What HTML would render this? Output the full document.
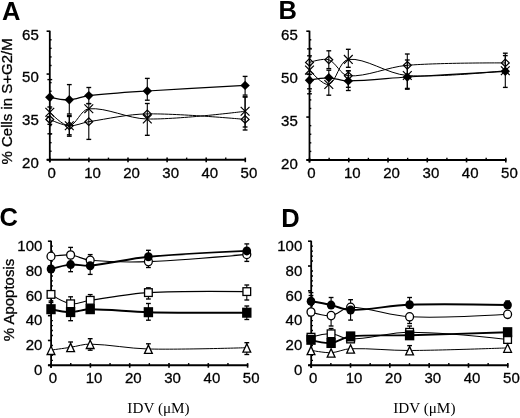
<!DOCTYPE html><html><head><meta charset="utf-8"><style>
html,body{margin:0;padding:0;background:#fff;width:520px;height:418px;overflow:hidden}
svg{display:block;filter:grayscale(1)}
.t{font-family:"Liberation Sans",sans-serif;font-size:15px;fill:#000;stroke:#000;stroke-width:0.3px}
.p{font-family:"Liberation Sans",sans-serif;font-size:25.5px;font-weight:bold;fill:#000}
.s{font-family:"Liberation Serif",serif;font-size:15.2px;fill:#000}
</style></head><body>
<svg width="520" height="418" viewBox="0 0 520 418">
<text x="2" y="19.7" class="p">A</text>
<text x="278.5" y="19.1" class="p">B</text>
<text x="-0.5" y="225.9" class="p">C</text>
<text x="281.3" y="226.9" class="p">D</text>
<text transform="translate(12,101.4) rotate(-90)" text-anchor="middle" class="t">% Cells in S+G2/M</text>
<text transform="translate(14.2,300) rotate(-90)" text-anchor="middle" class="t">% Apoptosis</text>
<text x="158.5" y="413" text-anchor="middle" class="s">IDV (&#956;M)</text>
<text x="424.3" y="413" text-anchor="middle" class="s">IDV (&#956;M)</text>
<line x1="49.8" y1="30.7" x2="49.8" y2="162.3" stroke="#000" stroke-width="1.8"/><line x1="46.8" y1="159.8" x2="245.9" y2="159.8" stroke="#000" stroke-width="1.9"/><line x1="46.6" y1="31.2" x2="49.8" y2="31.2" stroke="#000" stroke-width="1.6"/><line x1="46.6" y1="74.07" x2="49.8" y2="74.07" stroke="#000" stroke-width="1.6"/><line x1="46.6" y1="116.93" x2="49.8" y2="116.93" stroke="#000" stroke-width="1.6"/><line x1="46.6" y1="159.8" x2="49.8" y2="159.8" stroke="#000" stroke-width="1.6"/><line x1="49.8" y1="39.77" x2="51.6" y2="39.77" stroke="#000" stroke-width="1.4"/><line x1="49.8" y1="48.35" x2="51.6" y2="48.35" stroke="#000" stroke-width="1.4"/><line x1="49.8" y1="56.92" x2="51.6" y2="56.92" stroke="#000" stroke-width="1.4"/><line x1="49.8" y1="65.49" x2="51.6" y2="65.49" stroke="#000" stroke-width="1.4"/><line x1="49.8" y1="82.64" x2="51.6" y2="82.64" stroke="#000" stroke-width="1.4"/><line x1="49.8" y1="91.21" x2="51.6" y2="91.21" stroke="#000" stroke-width="1.4"/><line x1="49.8" y1="99.79" x2="51.6" y2="99.79" stroke="#000" stroke-width="1.4"/><line x1="49.8" y1="108.36" x2="51.6" y2="108.36" stroke="#000" stroke-width="1.4"/><line x1="49.8" y1="125.51" x2="51.6" y2="125.51" stroke="#000" stroke-width="1.4"/><line x1="49.8" y1="134.08" x2="51.6" y2="134.08" stroke="#000" stroke-width="1.4"/><line x1="49.8" y1="142.65" x2="51.6" y2="142.65" stroke="#000" stroke-width="1.4"/><line x1="49.8" y1="151.23" x2="51.6" y2="151.23" stroke="#000" stroke-width="1.4"/><line x1="49.8" y1="157.6" x2="49.8" y2="162.2" stroke="#000" stroke-width="1.6"/><line x1="69.35" y1="157.6" x2="69.35" y2="159.8" stroke="#000" stroke-width="1.4"/><line x1="88.9" y1="157.6" x2="88.9" y2="162.2" stroke="#000" stroke-width="1.6"/><line x1="108.45" y1="157.6" x2="108.45" y2="159.8" stroke="#000" stroke-width="1.4"/><line x1="128" y1="157.6" x2="128" y2="162.2" stroke="#000" stroke-width="1.6"/><line x1="147.55" y1="157.6" x2="147.55" y2="159.8" stroke="#000" stroke-width="1.4"/><line x1="167.1" y1="157.6" x2="167.1" y2="162.2" stroke="#000" stroke-width="1.6"/><line x1="186.65" y1="157.6" x2="186.65" y2="159.8" stroke="#000" stroke-width="1.4"/><line x1="206.2" y1="157.6" x2="206.2" y2="162.2" stroke="#000" stroke-width="1.6"/><line x1="225.75" y1="157.6" x2="225.75" y2="159.8" stroke="#000" stroke-width="1.4"/><line x1="245.3" y1="157.6" x2="245.3" y2="162.2" stroke="#000" stroke-width="1.6"/><text transform="translate(51.7,177.6)" text-anchor="middle" class="t">0</text><text transform="translate(92.5,177.6)" text-anchor="middle" class="t">10</text><text transform="translate(131.6,177.6)" text-anchor="middle" class="t">20</text><text transform="translate(170.7,177.6)" text-anchor="middle" class="t">30</text><text transform="translate(209.8,177.6)" text-anchor="middle" class="t">40</text><text transform="translate(248.9,177.6)" text-anchor="middle" class="t">50</text><text transform="translate(38.8,39.6)" text-anchor="end" class="t">65</text><text transform="translate(38.8,82.47)" text-anchor="end" class="t">50</text><text transform="translate(38.8,125.33)" text-anchor="end" class="t">35</text><text transform="translate(38.8,168.2)" text-anchor="end" class="t">20</text>
<line x1="309.5" y1="30.7" x2="309.5" y2="162.5" stroke="#000" stroke-width="1.8"/><line x1="306.5" y1="160" x2="506.4" y2="160" stroke="#000" stroke-width="1.9"/><line x1="306.3" y1="31.2" x2="309.5" y2="31.2" stroke="#000" stroke-width="1.6"/><line x1="306.3" y1="74.13" x2="309.5" y2="74.13" stroke="#000" stroke-width="1.6"/><line x1="306.3" y1="117.07" x2="309.5" y2="117.07" stroke="#000" stroke-width="1.6"/><line x1="306.3" y1="160" x2="309.5" y2="160" stroke="#000" stroke-width="1.6"/><line x1="309.5" y1="39.79" x2="311.3" y2="39.79" stroke="#000" stroke-width="1.4"/><line x1="309.5" y1="48.37" x2="311.3" y2="48.37" stroke="#000" stroke-width="1.4"/><line x1="309.5" y1="56.96" x2="311.3" y2="56.96" stroke="#000" stroke-width="1.4"/><line x1="309.5" y1="65.55" x2="311.3" y2="65.55" stroke="#000" stroke-width="1.4"/><line x1="309.5" y1="82.72" x2="311.3" y2="82.72" stroke="#000" stroke-width="1.4"/><line x1="309.5" y1="91.31" x2="311.3" y2="91.31" stroke="#000" stroke-width="1.4"/><line x1="309.5" y1="99.89" x2="311.3" y2="99.89" stroke="#000" stroke-width="1.4"/><line x1="309.5" y1="108.48" x2="311.3" y2="108.48" stroke="#000" stroke-width="1.4"/><line x1="309.5" y1="125.65" x2="311.3" y2="125.65" stroke="#000" stroke-width="1.4"/><line x1="309.5" y1="134.24" x2="311.3" y2="134.24" stroke="#000" stroke-width="1.4"/><line x1="309.5" y1="142.83" x2="311.3" y2="142.83" stroke="#000" stroke-width="1.4"/><line x1="309.5" y1="151.41" x2="311.3" y2="151.41" stroke="#000" stroke-width="1.4"/><line x1="309.5" y1="157.8" x2="309.5" y2="162.4" stroke="#000" stroke-width="1.6"/><line x1="329.13" y1="157.8" x2="329.13" y2="160" stroke="#000" stroke-width="1.4"/><line x1="348.76" y1="157.8" x2="348.76" y2="162.4" stroke="#000" stroke-width="1.6"/><line x1="368.39" y1="157.8" x2="368.39" y2="160" stroke="#000" stroke-width="1.4"/><line x1="388.02" y1="157.8" x2="388.02" y2="162.4" stroke="#000" stroke-width="1.6"/><line x1="407.65" y1="157.8" x2="407.65" y2="160" stroke="#000" stroke-width="1.4"/><line x1="427.28" y1="157.8" x2="427.28" y2="162.4" stroke="#000" stroke-width="1.6"/><line x1="446.91" y1="157.8" x2="446.91" y2="160" stroke="#000" stroke-width="1.4"/><line x1="466.54" y1="157.8" x2="466.54" y2="162.4" stroke="#000" stroke-width="1.6"/><line x1="486.17" y1="157.8" x2="486.17" y2="160" stroke="#000" stroke-width="1.4"/><line x1="505.8" y1="157.8" x2="505.8" y2="162.4" stroke="#000" stroke-width="1.6"/><text transform="translate(311.4,178.2)" text-anchor="middle" class="t">0</text><text transform="translate(352.36,178.2)" text-anchor="middle" class="t">10</text><text transform="translate(391.62,178.2)" text-anchor="middle" class="t">20</text><text transform="translate(430.88,178.2)" text-anchor="middle" class="t">30</text><text transform="translate(470.14,178.2)" text-anchor="middle" class="t">40</text><text transform="translate(509.4,178.2)" text-anchor="middle" class="t">50</text><text transform="translate(297.8,39.8)" text-anchor="end" class="t">65</text><text transform="translate(297.8,82.73)" text-anchor="end" class="t">50</text><text transform="translate(297.8,125.67)" text-anchor="end" class="t">35</text><text transform="translate(297.8,168.6)" text-anchor="end" class="t">20</text>
<line x1="51.1" y1="240.7" x2="51.1" y2="367.8" stroke="#000" stroke-width="1.8"/><line x1="48.1" y1="365.3" x2="248.2" y2="365.3" stroke="#000" stroke-width="1.9"/><line x1="47.9" y1="241.2" x2="51.1" y2="241.2" stroke="#000" stroke-width="1.6"/><line x1="47.9" y1="266.02" x2="51.1" y2="266.02" stroke="#000" stroke-width="1.6"/><line x1="47.9" y1="290.84" x2="51.1" y2="290.84" stroke="#000" stroke-width="1.6"/><line x1="47.9" y1="315.66" x2="51.1" y2="315.66" stroke="#000" stroke-width="1.6"/><line x1="47.9" y1="340.48" x2="51.1" y2="340.48" stroke="#000" stroke-width="1.6"/><line x1="47.9" y1="365.3" x2="51.1" y2="365.3" stroke="#000" stroke-width="1.6"/><line x1="51.1" y1="246.16" x2="52.9" y2="246.16" stroke="#000" stroke-width="1.4"/><line x1="51.1" y1="251.13" x2="52.9" y2="251.13" stroke="#000" stroke-width="1.4"/><line x1="51.1" y1="256.09" x2="52.9" y2="256.09" stroke="#000" stroke-width="1.4"/><line x1="51.1" y1="261.06" x2="52.9" y2="261.06" stroke="#000" stroke-width="1.4"/><line x1="51.1" y1="270.98" x2="52.9" y2="270.98" stroke="#000" stroke-width="1.4"/><line x1="51.1" y1="275.95" x2="52.9" y2="275.95" stroke="#000" stroke-width="1.4"/><line x1="51.1" y1="280.91" x2="52.9" y2="280.91" stroke="#000" stroke-width="1.4"/><line x1="51.1" y1="285.88" x2="52.9" y2="285.88" stroke="#000" stroke-width="1.4"/><line x1="51.1" y1="295.8" x2="52.9" y2="295.8" stroke="#000" stroke-width="1.4"/><line x1="51.1" y1="300.77" x2="52.9" y2="300.77" stroke="#000" stroke-width="1.4"/><line x1="51.1" y1="305.73" x2="52.9" y2="305.73" stroke="#000" stroke-width="1.4"/><line x1="51.1" y1="310.7" x2="52.9" y2="310.7" stroke="#000" stroke-width="1.4"/><line x1="51.1" y1="320.62" x2="52.9" y2="320.62" stroke="#000" stroke-width="1.4"/><line x1="51.1" y1="325.59" x2="52.9" y2="325.59" stroke="#000" stroke-width="1.4"/><line x1="51.1" y1="330.55" x2="52.9" y2="330.55" stroke="#000" stroke-width="1.4"/><line x1="51.1" y1="335.52" x2="52.9" y2="335.52" stroke="#000" stroke-width="1.4"/><line x1="51.1" y1="345.44" x2="52.9" y2="345.44" stroke="#000" stroke-width="1.4"/><line x1="51.1" y1="350.41" x2="52.9" y2="350.41" stroke="#000" stroke-width="1.4"/><line x1="51.1" y1="355.37" x2="52.9" y2="355.37" stroke="#000" stroke-width="1.4"/><line x1="51.1" y1="360.34" x2="52.9" y2="360.34" stroke="#000" stroke-width="1.4"/><line x1="51.1" y1="363.1" x2="51.1" y2="367.7" stroke="#000" stroke-width="1.6"/><line x1="70.75" y1="363.1" x2="70.75" y2="365.3" stroke="#000" stroke-width="1.4"/><line x1="90.4" y1="363.1" x2="90.4" y2="367.7" stroke="#000" stroke-width="1.6"/><line x1="110.05" y1="363.1" x2="110.05" y2="365.3" stroke="#000" stroke-width="1.4"/><line x1="129.7" y1="363.1" x2="129.7" y2="367.7" stroke="#000" stroke-width="1.6"/><line x1="149.35" y1="363.1" x2="149.35" y2="365.3" stroke="#000" stroke-width="1.4"/><line x1="169" y1="363.1" x2="169" y2="367.7" stroke="#000" stroke-width="1.6"/><line x1="188.65" y1="363.1" x2="188.65" y2="365.3" stroke="#000" stroke-width="1.4"/><line x1="208.3" y1="363.1" x2="208.3" y2="367.7" stroke="#000" stroke-width="1.6"/><line x1="227.95" y1="363.1" x2="227.95" y2="365.3" stroke="#000" stroke-width="1.4"/><line x1="247.6" y1="363.1" x2="247.6" y2="367.7" stroke="#000" stroke-width="1.6"/><text transform="translate(53,383.1)" text-anchor="middle" class="t">0</text><text transform="translate(94,383.1)" text-anchor="middle" class="t">10</text><text transform="translate(133.3,383.1)" text-anchor="middle" class="t">20</text><text transform="translate(172.6,383.1)" text-anchor="middle" class="t">30</text><text transform="translate(211.9,383.1)" text-anchor="middle" class="t">40</text><text transform="translate(251.2,383.1)" text-anchor="middle" class="t">50</text><text transform="translate(42.4,250.9)" text-anchor="end" class="t">100</text><text transform="translate(42.4,275.72)" text-anchor="end" class="t">80</text><text transform="translate(42.4,300.54)" text-anchor="end" class="t">60</text><text transform="translate(42.4,325.36)" text-anchor="end" class="t">40</text><text transform="translate(42.4,350.18)" text-anchor="end" class="t">20</text><text transform="translate(42.4,375)" text-anchor="end" class="t">0</text>
<line x1="311.2" y1="240.7" x2="311.2" y2="367.8" stroke="#000" stroke-width="1.8"/><line x1="308.2" y1="365.3" x2="508.4" y2="365.3" stroke="#000" stroke-width="1.9"/><line x1="308" y1="241.2" x2="311.2" y2="241.2" stroke="#000" stroke-width="1.6"/><line x1="308" y1="266.02" x2="311.2" y2="266.02" stroke="#000" stroke-width="1.6"/><line x1="308" y1="290.84" x2="311.2" y2="290.84" stroke="#000" stroke-width="1.6"/><line x1="308" y1="315.66" x2="311.2" y2="315.66" stroke="#000" stroke-width="1.6"/><line x1="308" y1="340.48" x2="311.2" y2="340.48" stroke="#000" stroke-width="1.6"/><line x1="308" y1="365.3" x2="311.2" y2="365.3" stroke="#000" stroke-width="1.6"/><line x1="311.2" y1="246.16" x2="313" y2="246.16" stroke="#000" stroke-width="1.4"/><line x1="311.2" y1="251.13" x2="313" y2="251.13" stroke="#000" stroke-width="1.4"/><line x1="311.2" y1="256.09" x2="313" y2="256.09" stroke="#000" stroke-width="1.4"/><line x1="311.2" y1="261.06" x2="313" y2="261.06" stroke="#000" stroke-width="1.4"/><line x1="311.2" y1="270.98" x2="313" y2="270.98" stroke="#000" stroke-width="1.4"/><line x1="311.2" y1="275.95" x2="313" y2="275.95" stroke="#000" stroke-width="1.4"/><line x1="311.2" y1="280.91" x2="313" y2="280.91" stroke="#000" stroke-width="1.4"/><line x1="311.2" y1="285.88" x2="313" y2="285.88" stroke="#000" stroke-width="1.4"/><line x1="311.2" y1="295.8" x2="313" y2="295.8" stroke="#000" stroke-width="1.4"/><line x1="311.2" y1="300.77" x2="313" y2="300.77" stroke="#000" stroke-width="1.4"/><line x1="311.2" y1="305.73" x2="313" y2="305.73" stroke="#000" stroke-width="1.4"/><line x1="311.2" y1="310.7" x2="313" y2="310.7" stroke="#000" stroke-width="1.4"/><line x1="311.2" y1="320.62" x2="313" y2="320.62" stroke="#000" stroke-width="1.4"/><line x1="311.2" y1="325.59" x2="313" y2="325.59" stroke="#000" stroke-width="1.4"/><line x1="311.2" y1="330.55" x2="313" y2="330.55" stroke="#000" stroke-width="1.4"/><line x1="311.2" y1="335.52" x2="313" y2="335.52" stroke="#000" stroke-width="1.4"/><line x1="311.2" y1="345.44" x2="313" y2="345.44" stroke="#000" stroke-width="1.4"/><line x1="311.2" y1="350.41" x2="313" y2="350.41" stroke="#000" stroke-width="1.4"/><line x1="311.2" y1="355.37" x2="313" y2="355.37" stroke="#000" stroke-width="1.4"/><line x1="311.2" y1="360.34" x2="313" y2="360.34" stroke="#000" stroke-width="1.4"/><line x1="311.2" y1="363.1" x2="311.2" y2="367.7" stroke="#000" stroke-width="1.6"/><line x1="330.86" y1="363.1" x2="330.86" y2="365.3" stroke="#000" stroke-width="1.4"/><line x1="350.52" y1="363.1" x2="350.52" y2="367.7" stroke="#000" stroke-width="1.6"/><line x1="370.18" y1="363.1" x2="370.18" y2="365.3" stroke="#000" stroke-width="1.4"/><line x1="389.84" y1="363.1" x2="389.84" y2="367.7" stroke="#000" stroke-width="1.6"/><line x1="409.5" y1="363.1" x2="409.5" y2="365.3" stroke="#000" stroke-width="1.4"/><line x1="429.16" y1="363.1" x2="429.16" y2="367.7" stroke="#000" stroke-width="1.6"/><line x1="448.82" y1="363.1" x2="448.82" y2="365.3" stroke="#000" stroke-width="1.4"/><line x1="468.48" y1="363.1" x2="468.48" y2="367.7" stroke="#000" stroke-width="1.6"/><line x1="488.14" y1="363.1" x2="488.14" y2="365.3" stroke="#000" stroke-width="1.4"/><line x1="507.8" y1="363.1" x2="507.8" y2="367.7" stroke="#000" stroke-width="1.6"/><text transform="translate(313.1,383.1)" text-anchor="middle" class="t">0</text><text transform="translate(354.12,383.1)" text-anchor="middle" class="t">10</text><text transform="translate(393.44,383.1)" text-anchor="middle" class="t">20</text><text transform="translate(432.76,383.1)" text-anchor="middle" class="t">30</text><text transform="translate(472.08,383.1)" text-anchor="middle" class="t">40</text><text transform="translate(511.4,383.1)" text-anchor="middle" class="t">50</text><text transform="translate(302.3,250.9)" text-anchor="end" class="t">100</text><text transform="translate(302.3,275.72)" text-anchor="end" class="t">80</text><text transform="translate(302.3,300.54)" text-anchor="end" class="t">60</text><text transform="translate(302.3,325.36)" text-anchor="end" class="t">40</text><text transform="translate(302.3,350.18)" text-anchor="end" class="t">20</text><text transform="translate(302.3,375)" text-anchor="end" class="t">0</text>
<line x1="47.4" y1="79.6" x2="52.2" y2="79.6" stroke="#000" stroke-width="1.35"/><line x1="47.4" y1="107" x2="52.2" y2="107" stroke="#000" stroke-width="1.35"/><line x1="47.4" y1="124.3" x2="52.2" y2="124.3" stroke="#000" stroke-width="1.35"/><line x1="47.4" y1="133.8" x2="52.2" y2="133.8" stroke="#000" stroke-width="1.35"/><line x1="69.3" y1="84.6" x2="69.3" y2="114" stroke="#000" stroke-width="1.1"/><line x1="69.3" y1="115.6" x2="69.3" y2="134.8" stroke="#000" stroke-width="1.1"/><line x1="69.3" y1="116.5" x2="69.3" y2="136.2" stroke="#000" stroke-width="1.1"/><line x1="66.9" y1="84.6" x2="71.7" y2="84.6" stroke="#000" stroke-width="1.35"/><line x1="66.9" y1="114" x2="71.7" y2="114" stroke="#000" stroke-width="1.35"/><line x1="66.9" y1="115.6" x2="71.7" y2="115.6" stroke="#000" stroke-width="1.35"/><line x1="66.9" y1="134.8" x2="71.7" y2="134.8" stroke="#000" stroke-width="1.35"/><line x1="66.9" y1="116.5" x2="71.7" y2="116.5" stroke="#000" stroke-width="1.35"/><line x1="66.9" y1="136.2" x2="71.7" y2="136.2" stroke="#000" stroke-width="1.35"/><line x1="88.8" y1="87.5" x2="88.8" y2="103.6" stroke="#000" stroke-width="1.1"/><line x1="88.8" y1="103.6" x2="88.8" y2="139.4" stroke="#000" stroke-width="1.1"/><line x1="86.4" y1="87.5" x2="91.2" y2="87.5" stroke="#000" stroke-width="1.35"/><line x1="86.4" y1="103.6" x2="91.2" y2="103.6" stroke="#000" stroke-width="1.35"/><line x1="86.4" y1="103.6" x2="91.2" y2="103.6" stroke="#000" stroke-width="1.35"/><line x1="86.4" y1="139.4" x2="91.2" y2="139.4" stroke="#000" stroke-width="1.35"/><line x1="147.3" y1="78.4" x2="147.3" y2="100.2" stroke="#000" stroke-width="1.1"/><line x1="147.3" y1="103.5" x2="147.3" y2="135.3" stroke="#000" stroke-width="1.1"/><line x1="144.9" y1="78.4" x2="149.7" y2="78.4" stroke="#000" stroke-width="1.35"/><line x1="144.9" y1="100.2" x2="149.7" y2="100.2" stroke="#000" stroke-width="1.35"/><line x1="144.9" y1="103.5" x2="149.7" y2="103.5" stroke="#000" stroke-width="1.35"/><line x1="144.9" y1="135.3" x2="149.7" y2="135.3" stroke="#000" stroke-width="1.35"/><line x1="245.1" y1="76.4" x2="245.1" y2="95.1" stroke="#000" stroke-width="1.1"/><line x1="245.1" y1="96.9" x2="245.1" y2="127" stroke="#000" stroke-width="1.1"/><line x1="245.1" y1="96.9" x2="245.1" y2="130" stroke="#000" stroke-width="1.1"/><line x1="242.7" y1="76.4" x2="247.5" y2="76.4" stroke="#000" stroke-width="1.35"/><line x1="242.7" y1="95.1" x2="247.5" y2="95.1" stroke="#000" stroke-width="1.35"/><line x1="242.7" y1="96.9" x2="247.5" y2="96.9" stroke="#000" stroke-width="1.35"/><line x1="242.7" y1="127" x2="247.5" y2="127" stroke="#000" stroke-width="1.35"/><line x1="242.7" y1="96.9" x2="247.5" y2="96.9" stroke="#000" stroke-width="1.35"/><line x1="242.7" y1="130" x2="247.5" y2="130" stroke="#000" stroke-width="1.35"/><path d="M49.8,97.3 C49.8,97.3 62.85,100.08 69.3,99.8 C75.85,99.51 82.2,96.34 88.8,95.6 C108.2,93.41 127.78,92.27 147.3,91 C179.88,88.87 245.1,85.4 245.1,85.4" fill="none" stroke="#000" stroke-width="1.2"/><path d="M49.8,112.2 C49.8,112.2 63.07,126.34 69.3,125.8 C76.07,125.21 80.91,109.49 88.8,108.8 C106.91,107.22 127.65,118.69 147.3,119 C179.75,119.52 245.1,111.3 245.1,111.3" fill="none" stroke="#000" stroke-width="1"/><path d="M49.8,119.5 C49.8,119.5 62.71,125.43 69.3,125.8 C75.71,126.16 82.24,122.7 88.8,121.7 C108.24,118.73 127.71,114.19 147.3,113.9 C179.81,113.42 245.1,119.4 245.1,119.4" fill="none" stroke="#000" stroke-width="1"/><path d="M49.8,92.6 L54.5,97.3 L49.8,102 L45.1,97.3 Z" fill="#000"/><path d="M69.3,95.1 L74,99.8 L69.3,104.5 L64.6,99.8 Z" fill="#000"/><path d="M88.8,90.9 L93.5,95.6 L88.8,100.3 L84.1,95.6 Z" fill="#000"/><path d="M147.3,86.3 L152,91 L147.3,95.7 L142.6,91 Z" fill="#000"/><path d="M245.1,80.7 L249.8,85.4 L245.1,90.1 L240.4,85.4 Z" fill="#000"/><path d="M45.4,107.8 L54.2,116.6 M45.4,116.6 L54.2,107.8" stroke="#000" stroke-width="1.2" fill="none"/><path d="M64.9,121.4 L73.7,130.2 M64.9,130.2 L73.7,121.4" stroke="#000" stroke-width="1.2" fill="none"/><path d="M84.4,104.4 L93.2,113.2 M84.4,113.2 L93.2,104.4" stroke="#000" stroke-width="1.2" fill="none"/><path d="M142.9,114.6 L151.7,123.4 M142.9,123.4 L151.7,114.6" stroke="#000" stroke-width="1.2" fill="none"/><path d="M240.7,106.9 L249.5,115.7 M240.7,115.7 L249.5,106.9" stroke="#000" stroke-width="1.2" fill="none"/><path d="M49.8,115.7 L53.7,119.5 L49.8,123.3 L45.9,119.5 Z" fill="none" stroke="#000" stroke-width="1.25"/><path d="M69.3,122 L73.2,125.8 L69.3,129.6 L65.4,125.8 Z" fill="none" stroke="#000" stroke-width="1.25"/><path d="M88.8,117.9 L92.7,121.7 L88.8,125.5 L84.9,121.7 Z" fill="none" stroke="#000" stroke-width="1.25"/><path d="M147.3,110.1 L151.2,113.9 L147.3,117.7 L143.4,113.9 Z" fill="none" stroke="#000" stroke-width="1.25"/><path d="M245.1,115.6 L249,119.4 L245.1,123.2 L241.2,119.4 Z" fill="none" stroke="#000" stroke-width="1.25"/>
<line x1="307.1" y1="48.9" x2="311.9" y2="48.9" stroke="#000" stroke-width="1.35"/><line x1="307.1" y1="55.8" x2="311.9" y2="55.8" stroke="#000" stroke-width="1.35"/><line x1="307.1" y1="74.4" x2="311.9" y2="74.4" stroke="#000" stroke-width="1.35"/><line x1="307.1" y1="88.8" x2="311.9" y2="88.8" stroke="#000" stroke-width="1.35"/><line x1="307.1" y1="93.8" x2="311.9" y2="93.8" stroke="#000" stroke-width="1.35"/><line x1="328.8" y1="50.8" x2="328.8" y2="68.6" stroke="#000" stroke-width="1.1"/><line x1="328.8" y1="70.2" x2="328.8" y2="95.2" stroke="#000" stroke-width="1.1"/><line x1="326.4" y1="50.8" x2="331.2" y2="50.8" stroke="#000" stroke-width="1.35"/><line x1="326.4" y1="68.6" x2="331.2" y2="68.6" stroke="#000" stroke-width="1.35"/><line x1="326.4" y1="70.2" x2="331.2" y2="70.2" stroke="#000" stroke-width="1.35"/><line x1="326.4" y1="95.2" x2="331.2" y2="95.2" stroke="#000" stroke-width="1.35"/><line x1="348.3" y1="49.3" x2="348.3" y2="67.3" stroke="#000" stroke-width="1.1"/><line x1="348.3" y1="70.8" x2="348.3" y2="90.5" stroke="#000" stroke-width="1.1"/><line x1="348.3" y1="70.8" x2="348.3" y2="87.3" stroke="#000" stroke-width="1.1"/><line x1="345.9" y1="49.3" x2="350.7" y2="49.3" stroke="#000" stroke-width="1.35"/><line x1="345.9" y1="67.3" x2="350.7" y2="67.3" stroke="#000" stroke-width="1.35"/><line x1="345.9" y1="70.8" x2="350.7" y2="70.8" stroke="#000" stroke-width="1.35"/><line x1="345.9" y1="90.5" x2="350.7" y2="90.5" stroke="#000" stroke-width="1.35"/><line x1="345.9" y1="70.8" x2="350.7" y2="70.8" stroke="#000" stroke-width="1.35"/><line x1="345.9" y1="87.3" x2="350.7" y2="87.3" stroke="#000" stroke-width="1.35"/><line x1="407.3" y1="54" x2="407.3" y2="89.2" stroke="#000" stroke-width="1.1"/><line x1="407.3" y1="60" x2="407.3" y2="88.4" stroke="#000" stroke-width="1.1"/><line x1="404.9" y1="54" x2="409.7" y2="54" stroke="#000" stroke-width="1.35"/><line x1="404.9" y1="89.2" x2="409.7" y2="89.2" stroke="#000" stroke-width="1.35"/><line x1="404.9" y1="60" x2="409.7" y2="60" stroke="#000" stroke-width="1.35"/><line x1="404.9" y1="88.4" x2="409.7" y2="88.4" stroke="#000" stroke-width="1.35"/><line x1="505.3" y1="53.2" x2="505.3" y2="87.4" stroke="#000" stroke-width="1.1"/><line x1="505.3" y1="55.6" x2="505.3" y2="71" stroke="#000" stroke-width="1.1"/><line x1="502.9" y1="53.2" x2="507.7" y2="53.2" stroke="#000" stroke-width="1.35"/><line x1="502.9" y1="87.4" x2="507.7" y2="87.4" stroke="#000" stroke-width="1.35"/><line x1="502.9" y1="55.6" x2="507.7" y2="55.6" stroke="#000" stroke-width="1.35"/><line x1="502.9" y1="71" x2="507.7" y2="71" stroke="#000" stroke-width="1.35"/><path d="M309.5,80.2 C309.5,80.2 322.38,77.68 328.8,77.8 C335.32,77.92 341.75,80.97 348.3,80.9 C367.92,80.7 387.63,78.2 407.3,77 C439.96,75 505.3,71.3 505.3,71.3" fill="none" stroke="#000" stroke-width="1.2"/><path d="M309.5,70.1 C309.5,70.1 323.23,86.04 328.8,84.5 C336.16,82.47 339.35,60.43 348.3,59.4 C365.52,57.43 387.21,74.05 407.3,75.5 C439.54,77.82 505.3,70.7 505.3,70.7" fill="none" stroke="#000" stroke-width="1"/><path d="M309.5,62.4 C309.5,62.4 323.17,57.85 328.8,59.8 C336.1,62.32 340.55,75.26 348.3,75.8 C366.72,77.09 387.45,66.93 407.3,65.3 C439.78,62.63 505.3,62.9 505.3,62.9" fill="none" stroke="#000" stroke-width="1"/><path d="M309.5,75.5 L314.2,80.2 L309.5,84.9 L304.8,80.2 Z" fill="#000"/><path d="M328.8,73.1 L333.5,77.8 L328.8,82.5 L324.1,77.8 Z" fill="#000"/><path d="M348.3,76.2 L353,80.9 L348.3,85.6 L343.6,80.9 Z" fill="#000"/><path d="M407.3,72.3 L412,77 L407.3,81.7 L402.6,77 Z" fill="#000"/><path d="M505.3,66.6 L510,71.3 L505.3,76 L500.6,71.3 Z" fill="#000"/><path d="M305.1,65.7 L313.9,74.5 M305.1,74.5 L313.9,65.7" stroke="#000" stroke-width="1.2" fill="none"/><path d="M324.4,80.1 L333.2,88.9 M324.4,88.9 L333.2,80.1" stroke="#000" stroke-width="1.2" fill="none"/><path d="M343.9,55 L352.7,63.8 M343.9,63.8 L352.7,55" stroke="#000" stroke-width="1.2" fill="none"/><path d="M402.9,71.1 L411.7,79.9 M402.9,79.9 L411.7,71.1" stroke="#000" stroke-width="1.2" fill="none"/><path d="M500.9,66.3 L509.7,75.1 M500.9,75.1 L509.7,66.3" stroke="#000" stroke-width="1.2" fill="none"/><path d="M309.5,58.6 L313.4,62.4 L309.5,66.2 L305.6,62.4 Z" fill="none" stroke="#000" stroke-width="1.25"/><path d="M328.8,56 L332.7,59.8 L328.8,63.6 L324.9,59.8 Z" fill="none" stroke="#000" stroke-width="1.25"/><path d="M348.3,72 L352.2,75.8 L348.3,79.6 L344.4,75.8 Z" fill="none" stroke="#000" stroke-width="1.25"/><path d="M407.3,61.5 L411.2,65.3 L407.3,69.1 L403.4,65.3 Z" fill="none" stroke="#000" stroke-width="1.25"/><path d="M505.3,59.1 L509.2,62.9 L505.3,66.7 L501.4,62.9 Z" fill="none" stroke="#000" stroke-width="1.25"/>
<line x1="48.6" y1="301" x2="53.4" y2="301" stroke="#000" stroke-width="1.35"/><line x1="48.6" y1="302.5" x2="53.4" y2="302.5" stroke="#000" stroke-width="1.35"/><line x1="70.6" y1="247.4" x2="70.6" y2="271.7" stroke="#000" stroke-width="1.1"/><line x1="70.6" y1="296.8" x2="70.6" y2="320.7" stroke="#000" stroke-width="1.1"/><line x1="70.6" y1="342" x2="70.6" y2="347" stroke="#000" stroke-width="1.1"/><line x1="68.2" y1="247.4" x2="73" y2="247.4" stroke="#000" stroke-width="1.35"/><line x1="68.2" y1="271.7" x2="73" y2="271.7" stroke="#000" stroke-width="1.35"/><line x1="68.2" y1="296.8" x2="73" y2="296.8" stroke="#000" stroke-width="1.35"/><line x1="68.2" y1="320.7" x2="73" y2="320.7" stroke="#000" stroke-width="1.35"/><line x1="68.2" y1="342" x2="73" y2="342" stroke="#000" stroke-width="1.35"/><line x1="68.2" y1="347" x2="73" y2="347" stroke="#000" stroke-width="1.35"/><line x1="90.2" y1="254.6" x2="90.2" y2="274.4" stroke="#000" stroke-width="1.1"/><line x1="90.2" y1="294.6" x2="90.2" y2="305" stroke="#000" stroke-width="1.1"/><line x1="90.2" y1="338.7" x2="90.2" y2="350.2" stroke="#000" stroke-width="1.1"/><line x1="87.8" y1="254.6" x2="92.6" y2="254.6" stroke="#000" stroke-width="1.35"/><line x1="87.8" y1="274.4" x2="92.6" y2="274.4" stroke="#000" stroke-width="1.35"/><line x1="87.8" y1="294.6" x2="92.6" y2="294.6" stroke="#000" stroke-width="1.35"/><line x1="87.8" y1="305" x2="92.6" y2="305" stroke="#000" stroke-width="1.35"/><line x1="87.8" y1="338.7" x2="92.6" y2="338.7" stroke="#000" stroke-width="1.35"/><line x1="87.8" y1="350.2" x2="92.6" y2="350.2" stroke="#000" stroke-width="1.35"/><line x1="148.4" y1="250.3" x2="148.4" y2="267.5" stroke="#000" stroke-width="1.1"/><line x1="148.4" y1="287.8" x2="148.4" y2="299" stroke="#000" stroke-width="1.1"/><line x1="148.4" y1="303.5" x2="148.4" y2="320.2" stroke="#000" stroke-width="1.1"/><line x1="148.4" y1="343.8" x2="148.4" y2="352" stroke="#000" stroke-width="1.1"/><line x1="146" y1="250.3" x2="150.8" y2="250.3" stroke="#000" stroke-width="1.35"/><line x1="146" y1="267.5" x2="150.8" y2="267.5" stroke="#000" stroke-width="1.35"/><line x1="146" y1="287.8" x2="150.8" y2="287.8" stroke="#000" stroke-width="1.35"/><line x1="146" y1="299" x2="150.8" y2="299" stroke="#000" stroke-width="1.35"/><line x1="146" y1="303.5" x2="150.8" y2="303.5" stroke="#000" stroke-width="1.35"/><line x1="146" y1="320.2" x2="150.8" y2="320.2" stroke="#000" stroke-width="1.35"/><line x1="146" y1="343.8" x2="150.8" y2="343.8" stroke="#000" stroke-width="1.35"/><line x1="146" y1="352" x2="150.8" y2="352" stroke="#000" stroke-width="1.35"/><line x1="246.8" y1="243.9" x2="246.8" y2="261.4" stroke="#000" stroke-width="1.1"/><line x1="246.8" y1="285" x2="246.8" y2="300" stroke="#000" stroke-width="1.1"/><line x1="246.8" y1="306" x2="246.8" y2="319.5" stroke="#000" stroke-width="1.1"/><line x1="246.8" y1="342.7" x2="246.8" y2="354.5" stroke="#000" stroke-width="1.1"/><line x1="244.4" y1="243.9" x2="249.2" y2="243.9" stroke="#000" stroke-width="1.35"/><line x1="244.4" y1="261.4" x2="249.2" y2="261.4" stroke="#000" stroke-width="1.35"/><line x1="244.4" y1="285" x2="249.2" y2="285" stroke="#000" stroke-width="1.35"/><line x1="244.4" y1="300" x2="249.2" y2="300" stroke="#000" stroke-width="1.35"/><line x1="244.4" y1="306" x2="249.2" y2="306" stroke="#000" stroke-width="1.35"/><line x1="244.4" y1="319.5" x2="249.2" y2="319.5" stroke="#000" stroke-width="1.35"/><line x1="244.4" y1="342.7" x2="249.2" y2="342.7" stroke="#000" stroke-width="1.35"/><line x1="244.4" y1="354.5" x2="249.2" y2="354.5" stroke="#000" stroke-width="1.35"/><path d="M51,256.4 C51,256.4 64.17,254.36 70.6,255 C77.24,255.66 83.49,259.73 90.2,260.3 C109.43,261.93 129.03,262.33 148.4,261.6 C181.23,260.36 246.8,254.4 246.8,254.4" fill="none" stroke="#000" stroke-width="1.1"/><path d="M51,269 C51,269 63.99,265.16 70.6,264.6 C77.06,264.06 83.72,266.35 90.2,265.7 C109.65,263.75 128.88,258.64 148.4,256.8 C181.08,253.71 246.8,250.9 246.8,250.9" fill="none" stroke="#000" stroke-width="1.9"/><path d="M51,294.4 C51,294.4 63.78,302.77 70.6,303.8 C76.85,304.74 83.63,301.25 90.2,300.3 C109.57,297.51 128.89,293.68 148.4,292.6 C181.09,290.78 246.8,291.6 246.8,291.6" fill="none" stroke="#000" stroke-width="1.1"/><path d="M51,309.2 C51,309.2 64.07,312.1 70.6,312.1 C77.13,312.1 83.62,309.19 90.2,309.2 C109.55,309.22 128.98,311.77 148.4,312.2 C181.18,312.93 246.8,312.7 246.8,312.7" fill="none" stroke="#000" stroke-width="1.9"/><path d="M51,350.1 C51,350.1 64.08,348.3 70.6,347.3 C77.14,346.3 83.62,343.96 90.2,344.1 C109.55,344.52 128.96,348.55 148.4,349 C181.16,349.75 246.8,347.7 246.8,347.7" fill="none" stroke="#000" stroke-width="1"/><ellipse cx="51" cy="256.4" rx="3.95" ry="4.18" fill="#fff" stroke="#000" stroke-width="1.3"/><ellipse cx="70.6" cy="255" rx="3.95" ry="4.18" fill="#fff" stroke="#000" stroke-width="1.3"/><ellipse cx="90.2" cy="260.3" rx="3.95" ry="4.18" fill="#fff" stroke="#000" stroke-width="1.3"/><ellipse cx="148.4" cy="261.6" rx="3.95" ry="4.18" fill="#fff" stroke="#000" stroke-width="1.3"/><ellipse cx="246.8" cy="254.4" rx="3.95" ry="4.18" fill="#fff" stroke="#000" stroke-width="1.3"/><ellipse cx="51" cy="269" rx="4.3" ry="4.51" fill="#000"/><ellipse cx="70.6" cy="264.6" rx="4.3" ry="4.51" fill="#000"/><ellipse cx="90.2" cy="265.7" rx="4.3" ry="4.51" fill="#000"/><ellipse cx="148.4" cy="256.8" rx="4.3" ry="4.51" fill="#000"/><ellipse cx="246.8" cy="250.9" rx="4.3" ry="4.51" fill="#000"/><rect x="47.15" y="290.55" width="7.7" height="7.7" fill="#fff" stroke="#000" stroke-width="1.3"/><rect x="66.75" y="299.95" width="7.7" height="7.7" fill="#fff" stroke="#000" stroke-width="1.3"/><rect x="86.35" y="296.45" width="7.7" height="7.7" fill="#fff" stroke="#000" stroke-width="1.3"/><rect x="144.55" y="288.75" width="7.7" height="7.7" fill="#fff" stroke="#000" stroke-width="1.3"/><rect x="242.95" y="287.75" width="7.7" height="7.7" fill="#fff" stroke="#000" stroke-width="1.3"/><rect x="46.3" y="304.17" width="9.4" height="10.06" fill="#000"/><rect x="65.9" y="307.07" width="9.4" height="10.06" fill="#000"/><rect x="85.5" y="304.17" width="9.4" height="10.06" fill="#000"/><rect x="143.7" y="307.17" width="9.4" height="10.06" fill="#000"/><rect x="242.1" y="307.67" width="9.4" height="10.06" fill="#000"/><path d="M51,346.2 L54.9,354.5 L47.1,354.5 Z" fill="#fff" stroke="#000" stroke-width="1.3" stroke-linejoin="miter"/><path d="M70.6,343.4 L74.5,351.7 L66.7,351.7 Z" fill="#fff" stroke="#000" stroke-width="1.3" stroke-linejoin="miter"/><path d="M90.2,340.2 L94.1,348.5 L86.3,348.5 Z" fill="#fff" stroke="#000" stroke-width="1.3" stroke-linejoin="miter"/><path d="M148.4,345.1 L152.3,353.4 L144.5,353.4 Z" fill="#fff" stroke="#000" stroke-width="1.3" stroke-linejoin="miter"/><path d="M246.8,343.8 L250.7,352.1 L242.9,352.1 Z" fill="#fff" stroke="#000" stroke-width="1.3" stroke-linejoin="miter"/>
<line x1="308.6" y1="292.6" x2="313.4" y2="292.6" stroke="#000" stroke-width="1.35"/><line x1="308.6" y1="295.5" x2="313.4" y2="295.5" stroke="#000" stroke-width="1.35"/><line x1="331.1" y1="297.5" x2="331.1" y2="305" stroke="#000" stroke-width="1.1"/><line x1="331.1" y1="315" x2="331.1" y2="326" stroke="#000" stroke-width="1.1"/><line x1="331.1" y1="328.5" x2="331.1" y2="335" stroke="#000" stroke-width="1.1"/><line x1="328.7" y1="297.5" x2="333.5" y2="297.5" stroke="#000" stroke-width="1.35"/><line x1="328.7" y1="305" x2="333.5" y2="305" stroke="#000" stroke-width="1.35"/><line x1="328.7" y1="315" x2="333.5" y2="315" stroke="#000" stroke-width="1.35"/><line x1="328.7" y1="326" x2="333.5" y2="326" stroke="#000" stroke-width="1.35"/><line x1="328.7" y1="328.5" x2="333.5" y2="328.5" stroke="#000" stroke-width="1.35"/><line x1="328.7" y1="335" x2="333.5" y2="335" stroke="#000" stroke-width="1.35"/><line x1="350.6" y1="299.7" x2="350.6" y2="320.1" stroke="#000" stroke-width="1.1"/><line x1="348.2" y1="299.7" x2="353" y2="299.7" stroke="#000" stroke-width="1.35"/><line x1="348.2" y1="320.1" x2="353" y2="320.1" stroke="#000" stroke-width="1.35"/><line x1="409.6" y1="297.5" x2="409.6" y2="305" stroke="#000" stroke-width="1.1"/><line x1="409.6" y1="316" x2="409.6" y2="323.5" stroke="#000" stroke-width="1.1"/><line x1="409.6" y1="326" x2="409.6" y2="333" stroke="#000" stroke-width="1.1"/><line x1="409.6" y1="345.6" x2="409.6" y2="351" stroke="#000" stroke-width="1.1"/><line x1="407.2" y1="297.5" x2="412" y2="297.5" stroke="#000" stroke-width="1.35"/><line x1="407.2" y1="305" x2="412" y2="305" stroke="#000" stroke-width="1.35"/><line x1="407.2" y1="316" x2="412" y2="316" stroke="#000" stroke-width="1.35"/><line x1="407.2" y1="323.5" x2="412" y2="323.5" stroke="#000" stroke-width="1.35"/><line x1="407.2" y1="326" x2="412" y2="326" stroke="#000" stroke-width="1.35"/><line x1="407.2" y1="333" x2="412" y2="333" stroke="#000" stroke-width="1.35"/><line x1="407.2" y1="345.6" x2="412" y2="345.6" stroke="#000" stroke-width="1.35"/><line x1="407.2" y1="351" x2="412" y2="351" stroke="#000" stroke-width="1.35"/><line x1="507.6" y1="301" x2="507.6" y2="305" stroke="#000" stroke-width="1.1"/><line x1="505.2" y1="301" x2="510" y2="301" stroke="#000" stroke-width="1.35"/><line x1="505.2" y1="305" x2="510" y2="305" stroke="#000" stroke-width="1.35"/><path d="M311,312 C311,312 324.62,316.37 331.1,315.6 C337.82,314.8 343.75,307.2 350.6,307.3 C369.92,307.6 389.78,315.92 409.6,316.8 C442.11,318.25 507.6,314.3 507.6,314.3" fill="none" stroke="#000" stroke-width="1.1"/><path d="M311,301.3 C311,301.3 324.44,303.64 331.1,305.1 C337.64,306.54 343.97,310.03 350.6,310 C370.14,309.9 389.88,305.33 409.6,304.7 C442.22,303.66 507.6,305 507.6,305" fill="none" stroke="#000" stroke-width="1.9"/><path d="M311,337.2 C311,337.2 324.47,333.5 331.1,333.8 C337.67,334.1 343.96,339.13 350.6,339 C370.13,338.63 389.89,332.24 409.6,332.3 C442.22,332.4 507.6,339.5 507.6,339.5" fill="none" stroke="#000" stroke-width="1.1"/><path d="M311,339.8 C311,339.8 324.54,343.56 331.1,343 C337.74,342.43 343.83,337.06 350.6,336.4 C370,334.5 389.94,335.83 409.6,335.3 C442.27,334.43 507.6,332.2 507.6,332.2" fill="none" stroke="#000" stroke-width="1.9"/><path d="M311,350.3 C311,350.3 324.44,352.97 331.1,352.7 C337.64,352.44 344,348.88 350.6,348.7 C370.17,348.15 389.93,350.6 409.6,350.5 C442.27,350.33 507.6,347.9 507.6,347.9" fill="none" stroke="#000" stroke-width="1"/><ellipse cx="311" cy="312" rx="3.95" ry="4.18" fill="#fff" stroke="#000" stroke-width="1.3"/><ellipse cx="331.1" cy="315.6" rx="3.95" ry="4.18" fill="#fff" stroke="#000" stroke-width="1.3"/><ellipse cx="350.6" cy="307.3" rx="3.95" ry="4.18" fill="#fff" stroke="#000" stroke-width="1.3"/><ellipse cx="409.6" cy="316.8" rx="3.95" ry="4.18" fill="#fff" stroke="#000" stroke-width="1.3"/><ellipse cx="507.6" cy="314.3" rx="3.95" ry="4.18" fill="#fff" stroke="#000" stroke-width="1.3"/><ellipse cx="311" cy="301.3" rx="4.3" ry="4.51" fill="#000"/><ellipse cx="331.1" cy="305.1" rx="4.3" ry="4.51" fill="#000"/><ellipse cx="350.6" cy="310" rx="4.3" ry="4.51" fill="#000"/><ellipse cx="409.6" cy="304.7" rx="4.3" ry="4.51" fill="#000"/><ellipse cx="507.6" cy="305" rx="4.3" ry="4.51" fill="#000"/><rect x="307.15" y="333.35" width="7.7" height="7.7" fill="#fff" stroke="#000" stroke-width="1.3"/><rect x="327.25" y="329.95" width="7.7" height="7.7" fill="#fff" stroke="#000" stroke-width="1.3"/><rect x="346.75" y="335.15" width="7.7" height="7.7" fill="#fff" stroke="#000" stroke-width="1.3"/><rect x="405.75" y="328.45" width="7.7" height="7.7" fill="#fff" stroke="#000" stroke-width="1.3"/><rect x="503.75" y="335.65" width="7.7" height="7.7" fill="#fff" stroke="#000" stroke-width="1.3"/><rect x="306.3" y="334.77" width="9.4" height="10.06" fill="#000"/><rect x="326.4" y="337.97" width="9.4" height="10.06" fill="#000"/><rect x="345.9" y="331.37" width="9.4" height="10.06" fill="#000"/><rect x="404.9" y="330.27" width="9.4" height="10.06" fill="#000"/><rect x="502.9" y="327.17" width="9.4" height="10.06" fill="#000"/><path d="M311,346.4 L314.9,354.7 L307.1,354.7 Z" fill="#fff" stroke="#000" stroke-width="1.3" stroke-linejoin="miter"/><path d="M331.1,348.8 L335,357.1 L327.2,357.1 Z" fill="#fff" stroke="#000" stroke-width="1.3" stroke-linejoin="miter"/><path d="M350.6,344.8 L354.5,353.1 L346.7,353.1 Z" fill="#fff" stroke="#000" stroke-width="1.3" stroke-linejoin="miter"/><path d="M409.6,346.6 L413.5,354.9 L405.7,354.9 Z" fill="#fff" stroke="#000" stroke-width="1.3" stroke-linejoin="miter"/><path d="M507.6,344 L511.5,352.3 L503.7,352.3 Z" fill="#fff" stroke="#000" stroke-width="1.3" stroke-linejoin="miter"/>
</svg></body></html>
